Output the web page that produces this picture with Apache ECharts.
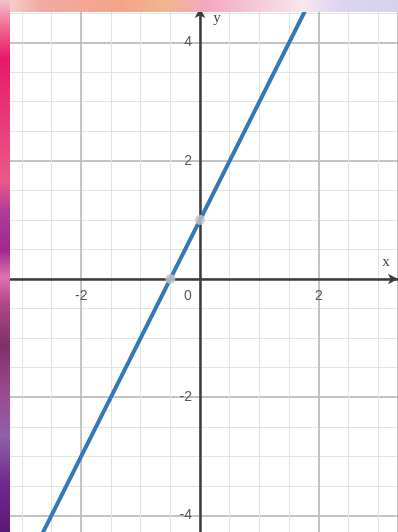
<!DOCTYPE html>
<html>
<head>
<meta charset="utf-8">
<script src="https://cdn.jsdelivr.net/npm/echarts@6/dist/echarts.min.js"></script>
<style>
  html, body { margin: 0; padding: 0; background: #fff; }
  #chart { width: 398px; height: 532px; }
</style>
</head>
<body>
<div id="chart"></div>
<script>
"use strict";

// data: the line y = 2x + 1 and its two marked points
var lineX = [-3, 2];
var lineY = [-5, 5];
var pointX = [0, -0.5];
var pointY = [1, 0];
var xLabels = [-2, 0, 2];
var yLabels = [-4, -2, 2, 4];

(function (echarts) {
    var chart = echarts.init(document.querySelector("#chart"));

    // pixel layout of the paper
    var W = 398, H = 532;
    var ox = 200, oy = 279;      // origin in px
    var ux = 59.4, uy = 59.1;    // px per unit
    var xMin = -4, yMin = -6;
    var gridTop = 8;
    var xMax = (W - ox) / ux;
    var yMax = (oy - gridTop) / uy;
    var gridLeft = ox + xMin * ux;
    var gridBottom = H - (oy - yMin * uy);

    function fmtX(v) {
        if (v === 0) return "{z|0}";
        return xLabels.indexOf(v) >= 0 ? String(v) : "";
    }
    function fmtY(v) {
        return yLabels.indexOf(v) >= 0 ? String(v) : "";
    }

    var option = {
        backgroundColor: "#fff",
        animation: false,
        grid: {
            left: gridLeft, top: gridTop, right: 0, bottom: gridBottom,
            outerBoundsMode: "none"
        },
        xAxis: [
            {
                type: "value", min: xMin, max: xMax, interval: 0.5, position: "bottom",
                axisLine: { show: false }, axisTick: { show: false }, axisLabel: { show: false },
                splitLine: { lineStyle: { color: "#e3e3e3", width: 1 } }
            },
            {
                // axis moved up from the grid bottom onto y = 0
                type: "value", min: xMin, max: xMax, interval: 2, position: "bottom",
                offset: -(oy - yMin * uy - oy),
                axisLine: {
                    onZero: false, symbol: ["none", "arrow"], symbolSize: [8, 10],
                    lineStyle: { color: "#3c3c3c", width: 2.5 }
                },
                axisTick: { show: false },
                axisLabel: {
                    margin: 10, formatter: fmtX,
                    color: "#5a5a5a", fontSize: 14, fontFamily: "Liberation Sans",
                    rich: { z: { padding: [0, 24, 0, 0], color: "#5a5a5a", fontSize: 14, fontFamily: "Liberation Sans" } }
                },
                splitLine: { lineStyle: { color: "#b4b4b4", width: 1.5 } },
                name: "x", nameLocation: "end", nameGap: -12,
                nameTextStyle: {
                    color: "#444", fontSize: 15, fontFamily: "Liberation Serif",
                    align: "center", verticalAlign: "bottom", padding: [0, 0, 9, 0]
                }
            }
        ],
        yAxis: [
            {
                type: "value", min: yMin, max: yMax, interval: 0.5, position: "left",
                axisLine: { show: false }, axisTick: { show: false }, axisLabel: { show: false },
                splitLine: { lineStyle: { color: "#e3e3e3", width: 1 } }
            },
            {
                // axis moved right from the grid left edge onto x = 0
                type: "value", min: yMin, max: yMax, interval: 2, position: "left",
                offset: -(ox - gridLeft),
                axisLine: {
                    onZero: false, symbol: ["none", "arrow"], symbolSize: [8, 10],
                    lineStyle: { color: "#3c3c3c", width: 2.5 }
                },
                axisTick: { show: false },
                axisLabel: { margin: 8, formatter: fmtY, color: "#5a5a5a", fontSize: 14, fontFamily: "Liberation Sans" },
                splitLine: { lineStyle: { color: "#b4b4b4", width: 1.5 } },
                name: "y", nameLocation: "end", nameGap: -10,
                nameTextStyle: {
                    color: "#444", fontSize: 15, fontFamily: "Liberation Serif",
                    align: "center", verticalAlign: "middle", padding: [0, 0, 0, 34]
                }
            }
        ],
        series: [
            {
                type: "line", xAxisIndex: 0, yAxisIndex: 0,
                data: lineX.map(function (x, i) { return [x, lineY[i]]; }),
                showSymbol: false, z: 5,
                lineStyle: { color: "#3578b8", width: 4 }
            },
            {
                type: "scatter", xAxisIndex: 0, yAxisIndex: 0,
                data: pointX.map(function (x, i) { return [x, pointY[i]]; }),
                symbolSize: 10, z: 6,
                itemStyle: { color: "#c4c4c4" }
            }
        ],
        graphic: [
            {
                type: "rect", z: 100, silent: true,
                shape: { x: 0, y: 0, width: W, height: 12 },
                style: {
                    fill: new echarts.graphic.LinearGradient(0, 0, 1, 0, [
                        { offset: 0, color: "#f4dada" },
                        { offset: 0.1, color: "#f2aaa2" },
                        { offset: 0.3, color: "#f3a48a" },
                        { offset: 0.42, color: "#f2b68e" },
                        { offset: 0.52, color: "#f2a8c2" },
                        { offset: 0.65, color: "#f5cadb" },
                        { offset: 0.76, color: "#f9e6ee" },
                        { offset: 0.86, color: "#dcd4f2" },
                        { offset: 1, color: "#d6d2ee" }
                    ])
                }
            },
            {
                type: "rect", z: 101, silent: true,
                shape: { x: 0, y: 0, width: 10, height: H },
                style: {
                    fill: new echarts.graphic.LinearGradient(0, 0, 0, 1, [
                        { offset: 0, color: "#f4c4cc" },
                        { offset: 0.05, color: "#f06a92" },
                        { offset: 0.11, color: "#e8186a" },
                        { offset: 0.22, color: "#e83878" },
                        { offset: 0.34, color: "#e85a8a" },
                        { offset: 0.4, color: "#b03a98" },
                        { offset: 0.47, color: "#a02890" },
                        { offset: 0.52, color: "#e070b0" },
                        { offset: 0.57, color: "#b04888" },
                        { offset: 0.65, color: "#803068" },
                        { offset: 0.74, color: "#9a4a90" },
                        { offset: 0.82, color: "#9060a8" },
                        { offset: 0.91, color: "#702890" },
                        { offset: 1, color: "#5a1a78" }
                    ])
                }
            }
        ]
    };

    chart.setOption(option);
}(echarts));
</script>
</body>
</html>
